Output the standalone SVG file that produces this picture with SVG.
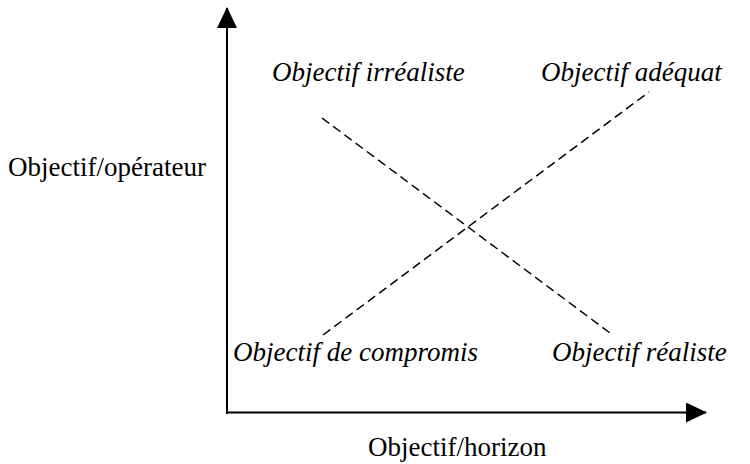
<svg xmlns="http://www.w3.org/2000/svg" width="750" height="464" viewBox="0 0 750 464">
<style>
.lab{font-family:"Liberation Serif","Times New Roman",serif;font-size:27px;fill:#000}
.it{font-style:italic}
.axis{stroke:#000;stroke-width:2;fill:none}
.dash{stroke:#000;stroke-width:1.5;stroke-dasharray:9 5;fill:none}
</style>
<defs>
<marker id="ah" markerWidth="21" markerHeight="20" refX="20" refY="10" orient="auto" markerUnits="userSpaceOnUse">
<path d="M0,0 L21,10 L0,20 Z" fill="#000"/>
</marker>
</defs>
<rect width="750" height="464" fill="#fff"/>
<g id="connectors">
<line class="axis" x1="227" y1="414" x2="227" y2="8" marker-end="url(#ah)"/>
<line class="axis" x1="226" y1="412.5" x2="706" y2="412.5" marker-end="url(#ah)"/>
<line class="dash" x1="322" y1="118" x2="610" y2="333"/>
<line class="dash" x1="323" y1="335" x2="649" y2="92"/>
</g>
<g id="y-label"><text class="lab" x="8" y="176">Objectif/opérateur</text></g>
<g id="x-label"><text class="lab" x="368" y="456">Objectif/horizon</text></g>
<g id="irrealiste"><text class="lab it" x="272" y="81">Objectif irréaliste</text></g>
<g id="adequat"><text class="lab it" x="541" y="81">Objectif adéquat</text></g>
<g id="compromis"><text class="lab it" x="233" y="361">Objectif de compromis</text></g>
<g id="realiste"><text class="lab it" x="552" y="361">Objectif réaliste</text></g>
</svg>
